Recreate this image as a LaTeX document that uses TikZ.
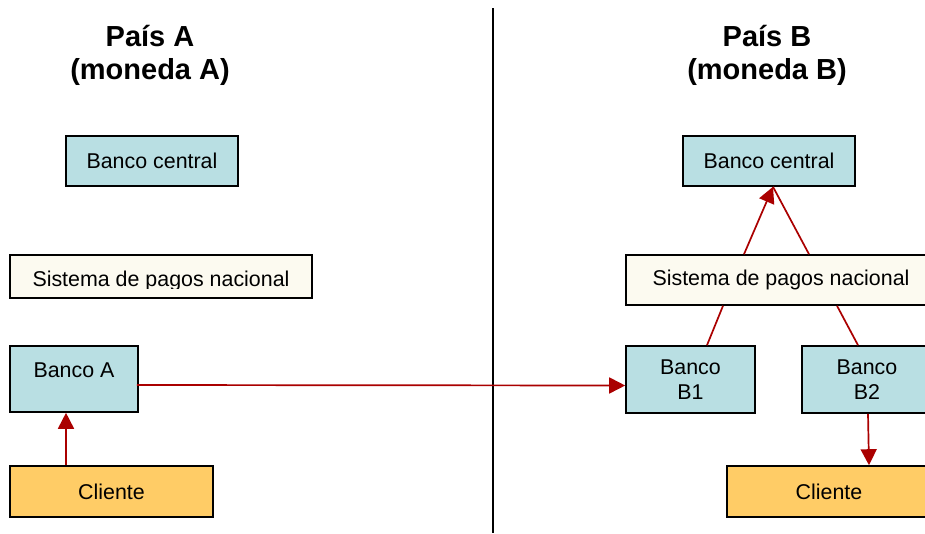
\documentclass[tikz,border=0pt]{standalone}
\usepackage{fontspec}
\setmainfont{Liberation Sans}
\usetikzlibrary{arrows.meta}
\definecolor{boxblue}{RGB}{185,223,227}
\definecolor{boxorange}{RGB}{255,204,102}
\definecolor{boxcream}{RGB}{252,250,240}
\definecolor{arrowred}{RGB}{170,0,0}
\tikzset{
  box/.style={draw=black, line width=1.6pt, inner sep=0pt, font=\fontsize{21.4}{25}\selectfont, align=center},
  bluebox/.style={box, fill=boxblue},
  clibox/.style={box, fill=boxorange},
  sisbox/.style={box, fill=boxcream},
  title/.style={font=\fontsize{29}{33}\selectfont\bfseries, align=center, inner sep=0pt},
  txt/.style={font=\fontsize{21.4}{25}\selectfont, inner sep=0pt},
  redline/.style={draw=arrowred, line width=1.7pt},
  redarrow/.style={redline, -{Triangle[length=16pt,width=16pt]}}
}
\begin{document}
\begin{tikzpicture}[x=1pt,y=-1pt]
\useasboundingbox (0,0) rectangle (925,533);
\clip (0,0) rectangle (925,533);
% divider
\coordinate (divtop) at (493,8);
\coordinate (divbot) at (493,533);
\draw[line width=1.5pt] (divtop) -- (divbot);
% titles
\node[title, anchor=base] (titleA) at (150,79) {País A\\(moneda A)};
\node[title, anchor=base] (titleB) at (767,79) {País B\\(moneda B)};
% left side
\node[bluebox, minimum width=172pt, minimum height=50pt] (bcA) at (152,161) {Banco central};
\node[sisbox, minimum width=302pt, minimum height=43pt] (sisA) at (161,276.5) {};
\begin{scope}
\clip (10,255) rectangle (312,288);
\node[txt, anchor=base] (sisAt) at (161,286) {Sistema de pagos nacional};
\end{scope}
\node[bluebox, minimum width=128pt, minimum height=66pt] (bancoA) at (74,379) {};
\node[txt, anchor=base] (bancoAt) at (74,377) {Banco A};
\node[clibox, minimum width=203pt, minimum height=51pt] (cliA) at (111.5,491.5) {Cliente};
% right side
\node[bluebox, minimum width=172pt, minimum height=50pt] (bcB) at (769,161) {Banco central};
\node[sisbox, minimum width=310pt, minimum height=50pt] (sisB) at (781,280) {Sistema de pagos nacional};
\node[bluebox, minimum width=129pt, minimum height=67pt] (b1) at (690.5,379.5) {Banco\\B1};
\node[bluebox, minimum width=130pt, minimum height=67pt] (b2) at (867,379.5) {Banco\\B2};
\node[clibox, minimum width=204pt, minimum height=51pt] (cliB) at (829,491.5) {Cliente};
% connectors
\draw[redarrow] ([xshift=-45.5pt]cliA.north) -- ([xshift=-8pt]bancoA.south);
\draw[redarrow] ([xshift=-2pt,yshift=-6pt]bancoA.east) -- ([yshift=-6pt]b1.west);
\draw[redarrow] ([xshift=-37pt]sisB.north) -- ([xshift=4pt]bcB.south);
\draw[redline] ([xshift=4pt]bcB.south) -- ([xshift=28pt]sisB.north);
\draw[redline] ([xshift=16.5pt]b1.north) -- ([xshift=-58pt]sisB.south);
\draw[redline] ([xshift=-9pt]b2.north) -- ([xshift=56pt]sisB.south);
\draw[redarrow] ([xshift=1pt]b2.south) -- ([xshift=40pt]cliB.north);
\end{tikzpicture}
\end{document}
